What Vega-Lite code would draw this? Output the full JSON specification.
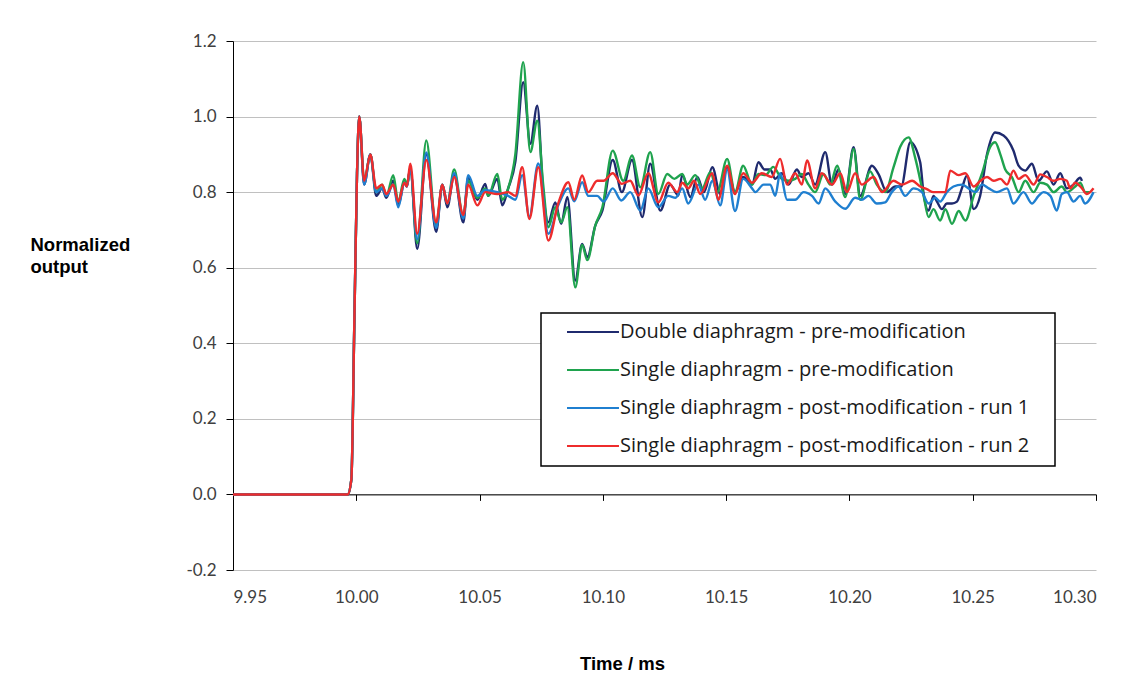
{
  "$schema": "https://vega.github.io/schema/vega-lite/v6.json",
  "width": 863,
  "height": 529,
  "autosize": {"type": "none"},
  "padding": {"left": 233, "top": 41, "right": 40, "bottom": 105},
  "background": "white",
  "config": {
    "view": {"stroke": null},
    "axis": {
      "labelFont": "Lato",
      "labelFontSize": 17,
      "labelColor": "#404040",
      "domainColor": "#000000",
      "tickColor": "#000000",
      "gridColor": "#c0c0c0",
      "gridWidth": 1,
      "titleFont": "Liberation Sans",
      "titleFontWeight": "bold",
      "titleFontSize": 18.5,
      "titleColor": "#000000"
    }
  },
  "data": {"values": [
    {"t":9.95,"v":0,"k":"A"},{"t":9.97,"v":0,"k":"A"},{"t":9.99,"v":0,"k":"A"},{"t":9.9965,"v":0,"k":"A"},{"t":9.998,"v":0.04,"k":"A"},{"t":9.9992,"v":0.45,"k":"A"},{"t":10.0003,"v":0.85,"k":"A"},{"t":10.0012,"v":1.0,"k":"A"},
    {"t":10.0032,"v":0.82,"k":"A"},{"t":10.0057,"v":0.90,"k":"A"},{"t":10.0081,"v":0.79,"k":"A"},{"t":10.0105,"v":0.81,"k":"A"},{"t":10.0122,"v":0.785,"k":"A"},{"t":10.015,"v":0.83,"k":"A"},{"t":10.017,"v":0.765,"k":"A"},{"t":10.0195,"v":0.825,"k":"A"},{"t":10.0205,"v":0.815,"k":"A"},{"t":10.0219,"v":0.865,"k":"A"},{"t":10.0247,"v":0.65,"k":"A"},{"t":10.0284,"v":0.90,"k":"A"},{"t":10.0324,"v":0.695,"k":"A"},{"t":10.0349,"v":0.82,"k":"A"},{"t":10.0369,"v":0.76,"k":"A"},{"t":10.0397,"v":0.845,"k":"A"},{"t":10.0434,"v":0.72,"k":"A"},{"t":10.0454,"v":0.84,"k":"A"},{"t":10.0491,"v":0.78,"k":"A"},
    {"t":10.0523,"v":0.822,"k":"A"},{"t":10.0535,"v":0.79,"k":"A"},{"t":10.0572,"v":0.835,"k":"A"},{"t":10.0592,"v":0.765,"k":"A"},{"t":10.0616,"v":0.81,"k":"A"},{"t":10.0645,"v":0.88,"k":"A"},{"t":10.0677,"v":1.091,"k":"A"},{"t":10.0706,"v":0.928,"k":"A"},{"t":10.0734,"v":1.029,"k":"A"},{"t":10.0758,"v":0.80,"k":"A"},{"t":10.0779,"v":0.72,"k":"A"},{"t":10.0807,"v":0.773,"k":"A"},{"t":10.0831,"v":0.716,"k":"A"},{"t":10.0856,"v":0.787,"k":"A"},{"t":10.0888,"v":0.566,"k":"A"},{"t":10.0916,"v":0.663,"k":"A"},{"t":10.0937,"v":0.628,"k":"A"},{"t":10.0969,"v":0.711,"k":"A"},{"t":10.0998,"v":0.751,"k":"A"},{"t":10.104,"v":0.885,"k":"A"},
    {"t":10.1077,"v":0.80,"k":"A"},{"t":10.1118,"v":0.885,"k":"A"},{"t":10.116,"v":0.734,"k":"A"},{"t":10.1192,"v":0.875,"k":"A"},{"t":10.1233,"v":0.751,"k":"A"},{"t":10.1273,"v":0.82,"k":"A"},{"t":10.1306,"v":0.791,"k":"A"},{"t":10.1322,"v":0.846,"k":"A"},{"t":10.1355,"v":0.787,"k":"A"},{"t":10.1383,"v":0.84,"k":"A"},{"t":10.141,"v":0.80,"k":"A"},{"t":10.1444,"v":0.866,"k":"A"},{"t":10.1476,"v":0.795,"k":"A"},{"t":10.1504,"v":0.866,"k":"A"},{"t":10.1536,"v":0.80,"k":"A"},{"t":10.1569,"v":0.84,"k":"A"},{"t":10.1605,"v":0.82,"k":"A"},{"t":10.1631,"v":0.879,"k":"A"},{"t":10.1655,"v":0.86,"k":"A"},{"t":10.1679,"v":0.86,"k":"A"},{"t":10.1699,"v":0.835,"k":"A"},{"t":10.1726,"v":0.85,"k":"A"},{"t":10.1753,"v":0.82,"k":"A"},{"t":10.1787,"v":0.86,"k":"A"},{"t":10.1807,"v":0.84,"k":"A"},{"t":10.1834,"v":0.85,"k":"A"},{"t":10.1861,"v":0.82,"k":"A"},{"t":10.1902,"v":0.906,"k":"A"},{"t":10.1929,"v":0.82,"k":"A"},{"t":10.1956,"v":0.86,"k":"A"},{"t":10.1983,"v":0.795,"k":"A"},{"t":10.2017,"v":0.919,"k":"A"},{"t":10.2044,"v":0.79,"k":"A"},{"t":10.2091,"v":0.87,"k":"A"},{"t":10.2118,"v":0.848,"k":"A"},{"t":10.2152,"v":0.80,"k":"A"},{"t":10.2186,"v":0.815,"k":"A"},{"t":10.221,"v":0.815,"k":"A"},{"t":10.2247,"v":0.932,"k":"A"},{"t":10.2287,"v":0.879,"k":"A"},{"t":10.23,"v":0.80,"k":"A"},{"t":10.2321,"v":0.751,"k":"A"},{"t":10.2341,"v":0.79,"k":"A"},{"t":10.2355,"v":0.775,"k":"A"},{"t":10.2375,"v":0.755,"k":"A"},{"t":10.2395,"v":0.77,"k":"A"},{"t":10.2416,"v":0.77,"k":"A"},{"t":10.2436,"v":0.775,"k":"A"},{"t":10.2456,"v":0.81,"k":"A"},{"t":10.2477,"v":0.844,"k":"A"},{"t":10.2504,"v":0.755,"k":"A"},{"t":10.253,"v":0.79,"k":"A"},{"t":10.2558,"v":0.90,"k":"A"},{"t":10.2591,"v":0.958,"k":"A"},{"t":10.2625,"v":0.95,"k":"A"},{"t":10.2665,"v":0.91,"k":"A"},{"t":10.2686,"v":0.87,"k":"A"},{"t":10.2713,"v":0.857,"k":"A"},{"t":10.274,"v":0.875,"k":"A"},{"t":10.2767,"v":0.83,"k":"A"},{"t":10.2801,"v":0.855,"k":"A"},{"t":10.2828,"v":0.82,"k":"A"},{"t":10.2855,"v":0.85,"k":"A"},{"t":10.2882,"v":0.81,"k":"A"},{"t":10.2909,"v":0.82,"k":"A"},{"t":10.2936,"v":0.838,"k":"A"},{"t":10.2943,"v":0.83,"k":"A"},

    {"t":9.95,"v":0,"k":"B"},{"t":9.97,"v":0,"k":"B"},{"t":9.99,"v":0,"k":"B"},{"t":9.9965,"v":0,"k":"B"},{"t":9.998,"v":0.04,"k":"B"},{"t":9.9992,"v":0.45,"k":"B"},{"t":10.0003,"v":0.85,"k":"B"},{"t":10.0012,"v":1.0,"k":"B"},
    {"t":10.0032,"v":0.83,"k":"B"},{"t":10.0057,"v":0.90,"k":"B"},{"t":10.0081,"v":0.80,"k":"B"},{"t":10.0105,"v":0.82,"k":"B"},{"t":10.0122,"v":0.79,"k":"B"},{"t":10.015,"v":0.845,"k":"B"},{"t":10.017,"v":0.775,"k":"B"},{"t":10.0195,"v":0.835,"k":"B"},{"t":10.0205,"v":0.82,"k":"B"},{"t":10.0219,"v":0.86,"k":"B"},{"t":10.0247,"v":0.665,"k":"B"},{"t":10.0284,"v":0.937,"k":"B"},{"t":10.0324,"v":0.71,"k":"B"},{"t":10.0349,"v":0.82,"k":"B"},{"t":10.0369,"v":0.77,"k":"B"},{"t":10.0397,"v":0.86,"k":"B"},{"t":10.0434,"v":0.735,"k":"B"},{"t":10.0454,"v":0.83,"k":"B"},{"t":10.0491,"v":0.785,"k":"B"},
    {"t":10.0523,"v":0.81,"k":"B"},{"t":10.0535,"v":0.79,"k":"B"},{"t":10.0572,"v":0.848,"k":"B"},{"t":10.0592,"v":0.78,"k":"B"},{"t":10.0616,"v":0.81,"k":"B"},{"t":10.0645,"v":0.90,"k":"B"},{"t":10.0677,"v":1.144,"k":"B"},{"t":10.0706,"v":0.906,"k":"B"},{"t":10.0734,"v":0.989,"k":"B"},{"t":10.0758,"v":0.82,"k":"B"},{"t":10.0779,"v":0.707,"k":"B"},{"t":10.0807,"v":0.76,"k":"B"},{"t":10.0831,"v":0.72,"k":"B"},{"t":10.0856,"v":0.76,"k":"B"},{"t":10.0888,"v":0.548,"k":"B"},{"t":10.0916,"v":0.66,"k":"B"},{"t":10.0937,"v":0.62,"k":"B"},{"t":10.0969,"v":0.711,"k":"B"},{"t":10.0998,"v":0.76,"k":"B"},{"t":10.104,"v":0.91,"k":"B"},
    {"t":10.1083,"v":0.83,"k":"B"},{"t":10.1118,"v":0.897,"k":"B"},{"t":10.1152,"v":0.813,"k":"B"},{"t":10.1192,"v":0.906,"k":"B"},{"t":10.1225,"v":0.795,"k":"B"},{"t":10.1261,"v":0.848,"k":"B"},{"t":10.129,"v":0.835,"k":"B"},{"t":10.1322,"v":0.848,"k":"B"},{"t":10.1342,"v":0.82,"k":"B"},{"t":10.1375,"v":0.845,"k":"B"},{"t":10.1403,"v":0.81,"k":"B"},{"t":10.1436,"v":0.853,"k":"B"},{"t":10.1464,"v":0.80,"k":"B"},{"t":10.1504,"v":0.888,"k":"B"},{"t":10.1536,"v":0.80,"k":"B"},{"t":10.1569,"v":0.87,"k":"B"},{"t":10.1605,"v":0.82,"k":"B"},{"t":10.1631,"v":0.848,"k":"B"},{"t":10.166,"v":0.845,"k":"B"},{"t":10.1691,"v":0.867,"k":"B"},{"t":10.1726,"v":0.835,"k":"B"},{"t":10.1753,"v":0.83,"k":"B"},{"t":10.178,"v":0.835,"k":"B"},{"t":10.1807,"v":0.848,"k":"B"},{"t":10.1834,"v":0.82,"k":"B"},{"t":10.1861,"v":0.80,"k":"B"},{"t":10.1895,"v":0.848,"k":"B"},{"t":10.1922,"v":0.82,"k":"B"},{"t":10.195,"v":0.87,"k":"B"},{"t":10.1983,"v":0.787,"k":"B"},{"t":10.2017,"v":0.914,"k":"B"},{"t":10.2044,"v":0.78,"k":"B"},{"t":10.2084,"v":0.855,"k":"B"},{"t":10.2111,"v":0.82,"k":"B"},{"t":10.2145,"v":0.80,"k":"B"},{"t":10.2179,"v":0.866,"k":"B"},{"t":10.2206,"v":0.92,"k":"B"},{"t":10.224,"v":0.945,"k":"B"},{"t":10.2267,"v":0.89,"k":"B"},{"t":10.2301,"v":0.79,"k":"B"},{"t":10.2321,"v":0.734,"k":"B"},{"t":10.2341,"v":0.755,"k":"B"},{"t":10.2368,"v":0.725,"k":"B"},{"t":10.2389,"v":0.755,"k":"B"},{"t":10.2416,"v":0.716,"k":"B"},{"t":10.2443,"v":0.75,"k":"B"},{"t":10.247,"v":0.725,"k":"B"},{"t":10.2504,"v":0.79,"k":"B"},{"t":10.2538,"v":0.85,"k":"B"},{"t":10.2571,"v":0.92,"k":"B"},{"t":10.2591,"v":0.932,"k":"B"},{"t":10.2612,"v":0.90,"k":"B"},{"t":10.2632,"v":0.86,"k":"B"},{"t":10.2659,"v":0.84,"k":"B"},{"t":10.2686,"v":0.80,"k":"B"},{"t":10.2713,"v":0.83,"k":"B"},{"t":10.2747,"v":0.80,"k":"B"},{"t":10.2774,"v":0.825,"k":"B"},{"t":10.2801,"v":0.82,"k":"B"},{"t":10.2828,"v":0.80,"k":"B"},{"t":10.2861,"v":0.815,"k":"B"},{"t":10.2882,"v":0.80,"k":"B"},{"t":10.2916,"v":0.815,"k":"B"},{"t":10.2936,"v":0.825,"k":"B"},{"t":10.2956,"v":0.80,"k":"B"},{"t":10.2977,"v":0.80,"k":"B"},

    {"t":9.95,"v":0,"k":"C"},{"t":9.97,"v":0,"k":"C"},{"t":9.99,"v":0,"k":"C"},{"t":9.9965,"v":0,"k":"C"},{"t":9.998,"v":0.04,"k":"C"},{"t":9.9992,"v":0.45,"k":"C"},{"t":10.0003,"v":0.85,"k":"C"},{"t":10.0012,"v":1.0,"k":"C"},
    {"t":10.0032,"v":0.82,"k":"C"},{"t":10.0057,"v":0.90,"k":"C"},{"t":10.0081,"v":0.80,"k":"C"},{"t":10.0105,"v":0.81,"k":"C"},{"t":10.0122,"v":0.79,"k":"C"},{"t":10.015,"v":0.82,"k":"C"},{"t":10.017,"v":0.76,"k":"C"},{"t":10.0195,"v":0.825,"k":"C"},{"t":10.0205,"v":0.815,"k":"C"},{"t":10.0219,"v":0.86,"k":"C"},{"t":10.0247,"v":0.675,"k":"C"},{"t":10.0284,"v":0.905,"k":"C"},{"t":10.0324,"v":0.705,"k":"C"},{"t":10.0349,"v":0.82,"k":"C"},{"t":10.0369,"v":0.77,"k":"C"},{"t":10.0397,"v":0.85,"k":"C"},{"t":10.0434,"v":0.73,"k":"C"},{"t":10.0454,"v":0.845,"k":"C"},{"t":10.0491,"v":0.79,"k":"C"},
    {"t":10.0523,"v":0.805,"k":"C"},{"t":10.0572,"v":0.80,"k":"C"},{"t":10.0616,"v":0.79,"k":"C"},{"t":10.0645,"v":0.78,"k":"C"},{"t":10.0673,"v":0.845,"k":"C"},{"t":10.0702,"v":0.735,"k":"C"},{"t":10.0738,"v":0.876,"k":"C"},{"t":10.0779,"v":0.69,"k":"C"},{"t":10.0819,"v":0.765,"k":"C"},{"t":10.086,"v":0.81,"k":"C"},{"t":10.0884,"v":0.776,"k":"C"},{"t":10.0916,"v":0.826,"k":"C"},{"t":10.0941,"v":0.79,"k":"C"},{"t":10.0977,"v":0.79,"k":"C"},{"t":10.1003,"v":0.775,"k":"C"},{"t":10.104,"v":0.81,"k":"C"},
    {"t":10.1075,"v":0.778,"k":"C"},{"t":10.1111,"v":0.80,"k":"C"},{"t":10.1152,"v":0.751,"k":"C"},{"t":10.1184,"v":0.81,"k":"C"},{"t":10.1225,"v":0.76,"k":"C"},{"t":10.1265,"v":0.79,"k":"C"},{"t":10.1295,"v":0.785,"k":"C"},{"t":10.1322,"v":0.81,"k":"C"},{"t":10.1346,"v":0.77,"k":"C"},{"t":10.1387,"v":0.82,"k":"C"},{"t":10.1415,"v":0.78,"k":"C"},{"t":10.1444,"v":0.83,"k":"C"},{"t":10.1476,"v":0.765,"k":"C"},{"t":10.1504,"v":0.86,"k":"C"},{"t":10.1536,"v":0.75,"k":"C"},{"t":10.1569,"v":0.835,"k":"C"},{"t":10.1605,"v":0.81,"k":"C"},{"t":10.1618,"v":0.80,"k":"C"},{"t":10.1652,"v":0.82,"k":"C"},{"t":10.1679,"v":0.82,"k":"C"},{"t":10.1699,"v":0.79,"k":"C"},{"t":10.1719,"v":0.85,"k":"C"},{"t":10.1747,"v":0.78,"k":"C"},{"t":10.178,"v":0.78,"k":"C"},{"t":10.1814,"v":0.80,"k":"C"},{"t":10.1848,"v":0.79,"k":"C"},{"t":10.1875,"v":0.77,"k":"C"},{"t":10.1902,"v":0.81,"k":"C"},{"t":10.1943,"v":0.775,"k":"C"},{"t":10.1983,"v":0.756,"k":"C"},{"t":10.2023,"v":0.785,"k":"C"},{"t":10.205,"v":0.78,"k":"C"},{"t":10.2077,"v":0.79,"k":"C"},{"t":10.2111,"v":0.77,"k":"C"},{"t":10.2145,"v":0.773,"k":"C"},{"t":10.2172,"v":0.80,"k":"C"},{"t":10.2199,"v":0.815,"k":"C"},{"t":10.2226,"v":0.79,"k":"C"},{"t":10.226,"v":0.81,"k":"C"},{"t":10.2294,"v":0.80,"k":"C"},{"t":10.2321,"v":0.77,"k":"C"},{"t":10.2348,"v":0.785,"k":"C"},{"t":10.2368,"v":0.775,"k":"C"},{"t":10.2395,"v":0.80,"k":"C"},{"t":10.2422,"v":0.815,"k":"C"},{"t":10.2456,"v":0.82,"k":"C"},{"t":10.2483,"v":0.81,"k":"C"},{"t":10.2511,"v":0.80,"k":"C"},{"t":10.2538,"v":0.82,"k":"C"},{"t":10.2565,"v":0.81,"k":"C"},{"t":10.2598,"v":0.80,"k":"C"},{"t":10.2639,"v":0.81,"k":"C"},{"t":10.2665,"v":0.77,"k":"C"},{"t":10.2706,"v":0.80,"k":"C"},{"t":10.274,"v":0.77,"k":"C"},{"t":10.2767,"v":0.79,"k":"C"},{"t":10.2787,"v":0.80,"k":"C"},{"t":10.2815,"v":0.79,"k":"C"},{"t":10.2841,"v":0.751,"k":"C"},{"t":10.2861,"v":0.795,"k":"C"},{"t":10.2882,"v":0.80,"k":"C"},{"t":10.2909,"v":0.775,"k":"C"},{"t":10.2936,"v":0.79,"k":"C"},{"t":10.2956,"v":0.77,"k":"C"},{"t":10.299,"v":0.80,"k":"C"},

    {"t":9.95,"v":0,"k":"D"},{"t":9.97,"v":0,"k":"D"},{"t":9.99,"v":0,"k":"D"},{"t":9.9965,"v":0,"k":"D"},{"t":9.998,"v":0.04,"k":"D"},{"t":9.9992,"v":0.45,"k":"D"},{"t":10.0003,"v":0.85,"k":"D"},{"t":10.0012,"v":1.0,"k":"D"},
    {"t":10.0032,"v":0.83,"k":"D"},{"t":10.0057,"v":0.90,"k":"D"},{"t":10.0081,"v":0.81,"k":"D"},{"t":10.0105,"v":0.82,"k":"D"},{"t":10.0122,"v":0.795,"k":"D"},{"t":10.015,"v":0.82,"k":"D"},{"t":10.017,"v":0.775,"k":"D"},{"t":10.0195,"v":0.825,"k":"D"},{"t":10.0205,"v":0.815,"k":"D"},{"t":10.0219,"v":0.875,"k":"D"},{"t":10.0247,"v":0.69,"k":"D"},{"t":10.0284,"v":0.885,"k":"D"},{"t":10.0324,"v":0.72,"k":"D"},{"t":10.0349,"v":0.82,"k":"D"},{"t":10.0369,"v":0.77,"k":"D"},{"t":10.0397,"v":0.84,"k":"D"},{"t":10.0434,"v":0.74,"k":"D"},{"t":10.0454,"v":0.82,"k":"D"},{"t":10.0491,"v":0.765,"k":"D"},
    {"t":10.0523,"v":0.80,"k":"D"},{"t":10.0572,"v":0.795,"k":"D"},{"t":10.0616,"v":0.80,"k":"D"},{"t":10.0645,"v":0.79,"k":"D"},{"t":10.0673,"v":0.866,"k":"D"},{"t":10.0702,"v":0.729,"k":"D"},{"t":10.0738,"v":0.866,"k":"D"},{"t":10.0779,"v":0.672,"k":"D"},{"t":10.0819,"v":0.77,"k":"D"},{"t":10.086,"v":0.826,"k":"D"},{"t":10.0884,"v":0.78,"k":"D"},{"t":10.0916,"v":0.844,"k":"D"},{"t":10.0941,"v":0.80,"k":"D"},{"t":10.0977,"v":0.83,"k":"D"},{"t":10.1003,"v":0.83,"k":"D"},{"t":10.104,"v":0.85,"k":"D"},
    {"t":10.1077,"v":0.822,"k":"D"},{"t":10.1111,"v":0.83,"k":"D"},{"t":10.1144,"v":0.791,"k":"D"},{"t":10.1184,"v":0.85,"k":"D"},{"t":10.1225,"v":0.773,"k":"D"},{"t":10.1265,"v":0.825,"k":"D"},{"t":10.1302,"v":0.80,"k":"D"},{"t":10.1322,"v":0.825,"k":"D"},{"t":10.1346,"v":0.81,"k":"D"},{"t":10.137,"v":0.83,"k":"D"},{"t":10.1395,"v":0.795,"k":"D"},{"t":10.1444,"v":0.85,"k":"D"},{"t":10.1468,"v":0.78,"k":"D"},{"t":10.1504,"v":0.87,"k":"D"},{"t":10.1536,"v":0.795,"k":"D"},{"t":10.1569,"v":0.85,"k":"D"},{"t":10.1605,"v":0.825,"k":"D"},{"t":10.1645,"v":0.85,"k":"D"},{"t":10.1685,"v":0.84,"k":"D"},{"t":10.1719,"v":0.888,"k":"D"},{"t":10.1747,"v":0.82,"k":"D"},{"t":10.178,"v":0.85,"k":"D"},{"t":10.1807,"v":0.82,"k":"D"},{"t":10.1828,"v":0.884,"k":"D"},{"t":10.1861,"v":0.81,"k":"D"},{"t":10.1888,"v":0.85,"k":"D"},{"t":10.1929,"v":0.82,"k":"D"},{"t":10.1963,"v":0.85,"k":"D"},{"t":10.199,"v":0.80,"k":"D"},{"t":10.2023,"v":0.85,"k":"D"},{"t":10.205,"v":0.82,"k":"D"},{"t":10.2098,"v":0.84,"k":"D"},{"t":10.2132,"v":0.80,"k":"D"},{"t":10.2179,"v":0.83,"k":"D"},{"t":10.2213,"v":0.82,"k":"D"},{"t":10.2254,"v":0.83,"k":"D"},{"t":10.2287,"v":0.815,"k":"D"},{"t":10.2314,"v":0.808,"k":"D"},{"t":10.2341,"v":0.80,"k":"D"},{"t":10.2368,"v":0.80,"k":"D"},{"t":10.2389,"v":0.80,"k":"D"},{"t":10.2409,"v":0.857,"k":"D"},{"t":10.2443,"v":0.845,"k":"D"},{"t":10.247,"v":0.85,"k":"D"},{"t":10.2504,"v":0.815,"k":"D"},{"t":10.2531,"v":0.83,"k":"D"},{"t":10.2558,"v":0.84,"k":"D"},{"t":10.2585,"v":0.83,"k":"D"},{"t":10.2612,"v":0.835,"k":"D"},{"t":10.2639,"v":0.82,"k":"D"},{"t":10.2665,"v":0.857,"k":"D"},{"t":10.2686,"v":0.835,"k":"D"},{"t":10.2713,"v":0.845,"k":"D"},{"t":10.2747,"v":0.82,"k":"D"},{"t":10.2774,"v":0.847,"k":"D"},{"t":10.2801,"v":0.84,"k":"D"},{"t":10.2828,"v":0.83,"k":"D"},{"t":10.2855,"v":0.835,"k":"D"},{"t":10.2882,"v":0.83,"k":"D"},{"t":10.2895,"v":0.81,"k":"D"},{"t":10.2916,"v":0.825,"k":"D"},{"t":10.2943,"v":0.81,"k":"D"},{"t":10.2963,"v":0.795,"k":"D"},{"t":10.299,"v":0.81,"k":"D"}
  ]},
  "transform": [
    {"lookup": "k", "from": {"data": {"values": [
      {"k": "A", "series": "Double diaphragm - pre-modification"},
      {"k": "B", "series": "Single diaphragm - pre-modification"},
      {"k": "C", "series": "Single diaphragm - post-modification - run 1"},
      {"k": "D", "series": "Single diaphragm - post-modification - run 2"}
    ]}, "key": "k", "fields": ["series"]}}
  ],
  "mark": {"type": "line", "interpolate": "monotone", "strokeWidth": 2.4},
  "encoding": {
    "x": {
      "field": "t", "type": "quantitative",
      "scale": {"domain": [9.95, 10.3], "nice": false, "zero": false},
      "axis": {
        "values": [9.95, 10.0, 10.05, 10.1, 10.15, 10.2, 10.25, 10.3],
        "format": ".2f",
        "offset": -75.6,
        "tickSize": 6,
        "labelPadding": 89,
        "labelBaseline": "top",
        "grid": false,
        "title": "Time / ms",
        "titleX": 389,
        "titleY": 169,
        "titleAlign": "center",
        "titleBaseline": "middle"
      }
    },
    "y": {
      "field": "v", "type": "quantitative",
      "scale": {"domain": [-0.2, 1.2], "nice": false, "zero": false},
      "axis": {
        "values": [-0.2, 0, 0.2, 0.4, 0.6, 0.8, 1.0, 1.2],
        "format": ".1f",
        "labelExpr": "replace(datum.label, '\u2212', '-')",
        "tickSize": 7,
        "labelPadding": 10,
        "grid": true,
        "title": ["Normalized", "output"],
        "titleAngle": 0,
        "titleAlign": "left",
        "titleBaseline": "top",
        "titleX": -203,
        "titleY": 194,
        "titleLineHeight": 22
      }
    },
    "color": {
      "field": "series", "type": "nominal",
      "scale": {
        "domain": ["Double diaphragm - pre-modification", "Single diaphragm - pre-modification", "Single diaphragm - post-modification - run 1", "Single diaphragm - post-modification - run 2"],
        "range": ["#1f2a6e", "#1fa34e", "#1f7fd0", "#ee2c2c"]
      },
      "legend": {
        "title": null,
        "orient": "none",
        "direction": "vertical",
        "legendX": 308,
        "legendY": 272,
        "fillColor": "white",
        "strokeColor": "black",
        "padding": 10,
        "symbolType": "stroke",
        "symbolSize": 2700,
        "symbolStrokeWidth": 2,
        "symbolOffset": 15,
        "clipHeight": 18,
        "rowPadding": 18,
        "labelOffset": 0,
        "labelFont": "Open Sans",
        "labelFontSize": 20,
        "labelColor": "#1a1a1a",
        "labelLimit": 700,
        "labelExpr": "datum.label + '\u2800'",
        "encode": {"legend": {"update": {"strokeWidth": {"value": 1.5}}}}
      }
    }
  }
}
